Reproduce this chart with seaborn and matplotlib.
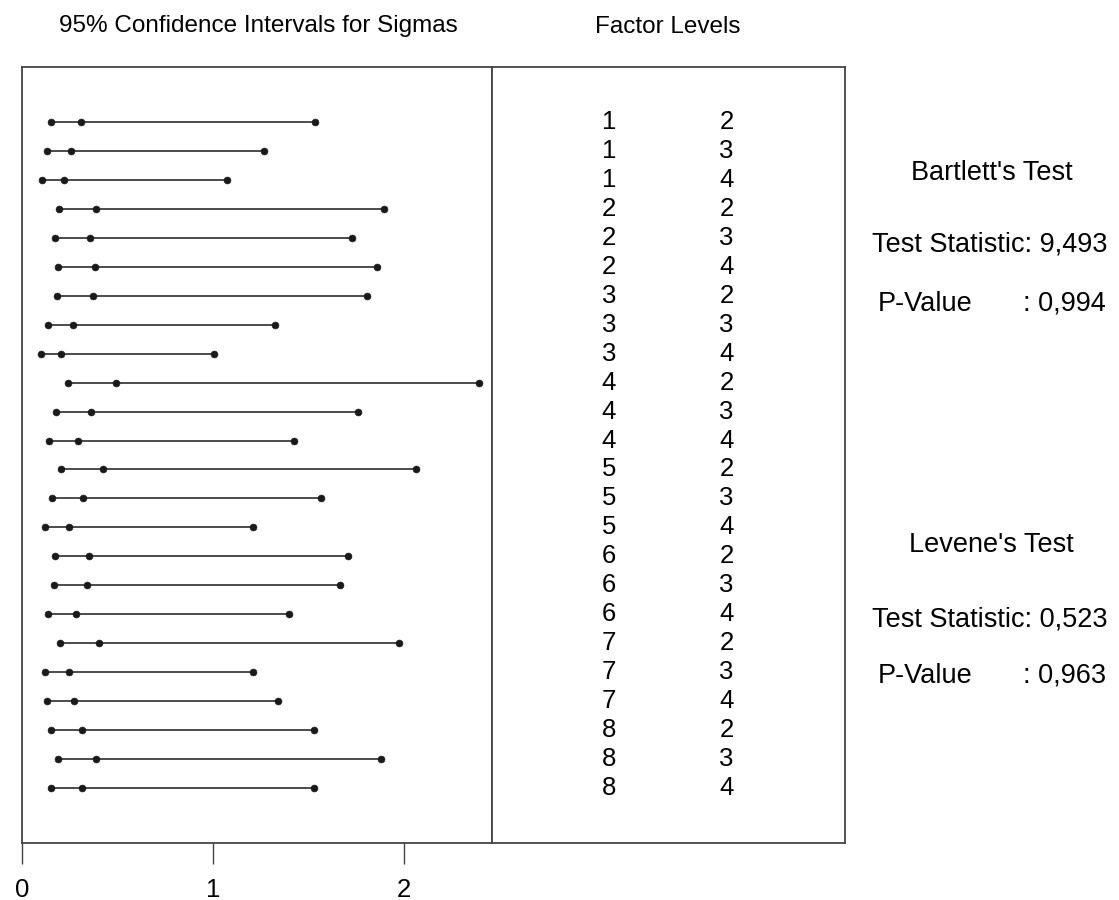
import numpy as np
import pandas as pd
import matplotlib
matplotlib.use("Agg")
import matplotlib.pyplot as plt
import seaborn as sns

# Factor level combinations (factor A, factor B)
factor_a = [1, 1, 1, 2, 2, 2, 3, 3, 3, 4, 4, 4, 5, 5, 5, 6, 6, 6, 7, 7, 7, 8, 8, 8]
factor_b = [2, 3, 4, 2, 3, 4, 2, 3, 4, 2, 3, 4, 2, 3, 4, 2, 3, 4, 2, 3, 4, 2, 3, 4]

# 95% CI for sigma: lower bound, estimate, upper bound
sigma_lower = [0.154, 0.131, 0.105, 0.193, 0.174, 0.188, 0.183, 0.136, 0.101, 0.242, 0.179, 0.144,
               0.207, 0.158, 0.120, 0.174, 0.169, 0.139, 0.202, 0.120, 0.134, 0.153, 0.191, 0.153]
sigma_est = [0.312, 0.259, 0.221, 0.390, 0.357, 0.382, 0.371, 0.270, 0.207, 0.492, 0.361, 0.294,
             0.425, 0.322, 0.246, 0.352, 0.342, 0.284, 0.404, 0.249, 0.274, 0.314, 0.387, 0.314]
sigma_upper = [1.534, 1.269, 1.072, 1.893, 1.729, 1.858, 1.806, 1.323, 1.004, 2.390, 1.757, 1.424,
               2.062, 1.564, 1.208, 1.708, 1.665, 1.396, 1.975, 1.211, 1.342, 1.530, 1.879, 1.530]

x_ticks = [0, 1, 2]

bartlett_stat = "9,493"
bartlett_p = "0,994"
levene_stat = "0,523"
levene_p = "0,963"

sns.set_theme(style="white")
plt.rcParams['font.family'] = ['Liberation Sans', 'DejaVu Sans']
plt.rcParams['text.color'] = 'black'

INK = "#1a1a1a"
FRAME = "#444444"

n = len(factor_a)
rows = np.arange(n)
df = pd.DataFrame({
    'row': np.tile(rows, 3),
    'sigma': sigma_lower + sigma_est + sigma_upper,
})

fig = plt.figure(figsize=(11.19, 9.0), dpi=100)
ax = fig.add_axes([21.7 / 1119, 1 - 842.7 / 900, 470 / 1119, 776 / 900])
ax2 = fig.add_axes([491.7 / 1119, 1 - 842.7 / 900, 353.3 / 1119, 776 / 900])

ax.hlines(rows, sigma_lower, sigma_upper, color=INK, linewidth=1.1, zorder=2)
sns.scatterplot(data=df, x='sigma', y='row', ax=ax, color=INK, s=25,
                edgecolor=INK, linewidth=0.4, zorder=3, legend=False)

ax.set_xlim(0, 2.458)
ax.set_ylim(n - 1 + 1.88, -1.9)
ax.set_xticks(x_ticks)
ax.set_xticklabels([str(t) for t in x_ticks], fontsize=18.5)
ax.set_yticks([])
ax.set_xlabel('')
ax.set_ylabel('')
ax.tick_params(axis='x', direction='out', length=15, width=1, color=FRAME,
               pad=10.5, labelcolor='black', bottom=True)

ax2.set_xlim(0, 1)
ax2.set_ylim(n - 1 + 1.88, -1.9)
ax2.set_xticks([])
ax2.set_yticks([])
for i in range(n):
    ax2.text(0.332, i, str(factor_a[i]), ha='center', va='center', fontsize=18.5)
    ax2.text(0.665, i, str(factor_b[i]), ha='center', va='center', fontsize=18.5)

for a in (ax, ax2):
    for sp in a.spines.values():
        sp.set_visible(True)
        sp.set_color(FRAME)
        sp.set_linewidth(1.3)

fig.text(258.5 / 1119, 1 - 26 / 900, '95% Confidence Intervals for Sigmas',
         ha='center', va='center', fontsize=17.5)
fig.text(668 / 1119, 1 - 26.7 / 900, 'Factor Levels',
         ha='center', va='center', fontsize=17.5)

# Test results
fig.text(991.7 / 1119, 1 - 173 / 900, "Bartlett's Test", ha='center', va='center', fontsize=19.5)
fig.text(871.7 / 1119, 1 - 245 / 900, f"Test Statistic: {bartlett_stat}", ha='left', va='center', fontsize=19.5)
fig.text(878 / 1119, 1 - 304 / 900, "P-Value", ha='left', va='center', fontsize=19.5)
fig.text(1023 / 1119, 1 - 304 / 900, f": {bartlett_p}", ha='left', va='center', fontsize=19.5)

fig.text(991.7 / 1119, 1 - 545 / 900, "Levene's Test", ha='center', va='center', fontsize=19.5)
fig.text(871.7 / 1119, 1 - 620 / 900, f"Test Statistic: {levene_stat}", ha='left', va='center', fontsize=19.5)
fig.text(878 / 1119, 1 - 676 / 900, "P-Value", ha='left', va='center', fontsize=19.5)
fig.text(1023 / 1119, 1 - 676 / 900, f": {levene_p}", ha='left', va='center', fontsize=19.5)

fig.savefig('out.png', dpi=100, facecolor='white')
